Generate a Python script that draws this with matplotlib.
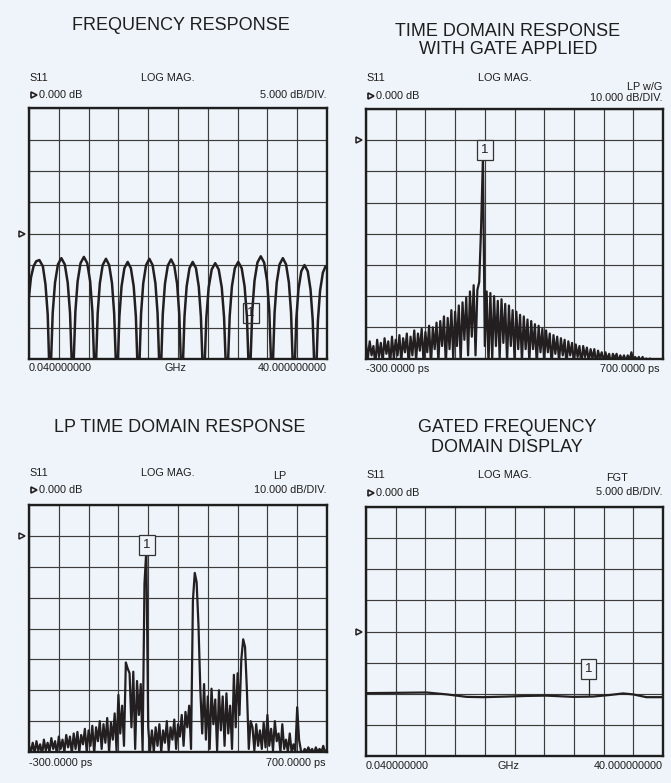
import numpy as np
import matplotlib
matplotlib.use("Agg")
import matplotlib.pyplot as plt
from matplotlib.transforms import blended_transform_factory

plt.rcParams['font.family'] = ['Liberation Sans', 'DejaVu Sans']

BG = '#eef4f9'
INK = '#231f20'
GRID = '#3c3c3c'

# ---------------- data ----------------
titles = ["FREQUENCY RESPONSE", "TIME DOMAIN RESPONSE\nWITH GATE APPLIED",
          "LP TIME DOMAIN RESPONSE", "GATED FREQUENCY\nDOMAIN DISPLAY"]
scales = ["5.000 dB/DIV.", "10.000 dB/DIV.", "10.000 dB/DIV.", "5.000 dB/DIV."]
modes = ["", "LP w/G", "LP", "FGT"]
freq_labels = ["0.040000000", "GHz", "40.000000000"]
time_labels = ["-300.0000 ps", "700.0000 ps"]

# Panel 1: frequency response (GHz, dB)
freq1 = [0.04, 0.30, 0.65, 1.00, 1.43, 1.90, 2.25, 2.55, 2.73, 2.86,
         3.01, 3.22, 3.53, 3.92, 4.38, 4.84, 5.23, 5.54, 5.75, 5.90,
         6.05, 6.26, 6.56, 6.95, 7.40, 7.85, 8.24, 8.54, 8.75, 8.90,
         9.05, 9.25, 9.54, 9.92, 10.36, 10.79, 11.17, 11.46, 11.67, 11.81,
         11.96, 12.16, 12.45, 12.83, 13.27, 13.70, 14.08, 14.37, 14.57, 14.72,
         14.87, 15.07, 15.36, 15.74, 16.18, 16.61, 16.99, 17.28, 17.48, 17.63,
         17.78, 17.98, 18.27, 18.65, 19.09, 19.52, 19.90, 20.19, 20.39, 20.54,
         20.69, 20.89, 21.18, 21.56, 21.99, 22.43, 22.80, 23.09, 23.30, 23.44,
         23.60, 23.82, 24.13, 24.54, 25.01, 25.48, 25.89, 26.20, 26.42, 26.58,
         26.73, 26.95, 27.25, 27.64, 28.10, 28.56, 28.95, 29.26, 29.47, 29.62,
         29.77, 29.98, 30.28, 30.67, 31.12, 31.57, 31.96, 32.26, 32.47, 32.62,
         32.77, 32.97, 33.26, 33.64, 34.08, 34.51, 34.89, 35.18, 35.38, 35.53,
         35.68, 35.88, 36.17, 36.55, 36.98, 37.42, 37.79, 38.08, 38.29, 38.43,
         38.58, 38.78, 39.07, 39.45, 39.80, 40.00]
db1 = [-10.0, -7.0, -5.2, -4.4, -4.2, -5.2, -8.1, -12.9, -20.2, -40,
       -19.9, -12.6, -7.8, -4.9, -3.9, -4.9, -7.8, -12.6, -19.9, -40,
       -19.7, -12.4, -7.6, -4.7, -3.7, -4.7, -7.6, -12.4, -19.7, -40,
       -20.0, -12.7, -7.9, -5.0, -4.0, -5.0, -7.9, -12.7, -20.0, -40,
       -20.5, -13.2, -8.4, -5.5, -4.5, -5.5, -8.4, -13.2, -20.5, -40,
       -20.0, -12.7, -7.9, -5.0, -4.0, -5.0, -7.9, -12.7, -20.0, -40,
       -20.1, -12.8, -8.0, -5.1, -4.1, -5.1, -8.0, -12.8, -20.1, -40,
       -20.5, -13.2, -8.4, -5.5, -4.5, -5.5, -8.4, -13.2, -20.5, -40,
       -20.7, -13.4, -8.6, -5.7, -4.7, -5.7, -8.6, -13.4, -20.7, -40,
       -20.5, -13.2, -8.4, -5.5, -4.5, -5.5, -8.4, -13.2, -20.5, -40,
       -19.6, -12.3, -7.5, -4.6, -3.6, -4.6, -7.5, -12.3, -19.6, -40,
       -19.9, -12.6, -7.8, -4.9, -3.9, -4.9, -7.8, -12.6, -19.9, -40,
       -21.0, -13.7, -8.9, -6.0, -5.0, -6.0, -8.9, -13.7, -21.0, -40,
       -21.2, -13.9, -9.1, -6.2, -5.2, -5.5]

# Time axis for panels 2 and 3 (ps), instrument sample grid
time_ps = np.linspace(-300, 700, 161)

# Panel 2: time domain response with gate applied (dB)
gated_db = [-65.5, -70, -64.5, -69, -66, -72, -64, -69.5, -65, -71,
            -63.5, -68.5, -64.5, -72, -63, -70, -64, -69, -62.5, -71,
            -63.5, -68, -62, -72, -63, -69, -61, -70.5, -62, -67.5,
            -60.5, -71, -61.5, -68, -59.5, -72, -60, -67, -58.5, -71,
            -58, -66, -56.5, -72, -57, -67, -54.5, -70, -55, -66,
            -53, -71, -52, -64, -50.5, -69, -48.5, -63, -46.5, -69,
            -48, -45.5, -28, -5.5, -66, -48.5, -72, -49, -70, -50,
            -66, -51.5, -70, -51, -65, -52.5, -71, -53, -66, -54.5,
            -70, -55, -67, -56, -71, -56.5, -67, -57.5, -71, -58,
            -67, -59, -72, -59.5, -68, -60.5, -71, -61, -68, -62,
            -72, -62.5, -68.5, -63, -71, -63.5, -69, -64, -72, -64.5,
            -69, -65, -71.5, -65.5, -69.5, -66, -72, -66, -69.5, -66.5,
            -71, -67, -70, -67, -72, -67.5, -70, -68, -71, -68,
            -70.5, -68.5, -72, -68.5, -70, -68.5, -71, -69, -70.5, -69,
            -71, -69, -70.5, -68, -71, -69.5, -70.5, -69.5, -71, -69.5,
            -71, -70, -72, -70, -72, -71, -72, -71, -72, -72, -72]

# Panel 3: LP time domain response (dB)
lp_db = [-68, -70, -67, -70.5, -66.5, -69.5, -67.5, -71, -66, -69.5,
         -67, -70, -65.5, -69, -66.5, -71, -65, -69, -66, -70,
         -64.5, -68.5, -65, -70.5, -64, -69, -63.5, -70, -64.5, -67.5,
         -62.5, -70, -63, -68, -61.5, -70.5, -62, -66.5, -60, -69,
         -61, -67, -59, -70, -60.5, -66, -57.5, -69.5, -51.5, -64,
         -55, -68, -41, -43, -44.5, -62, -44, -69, -47, -58,
         -48, -69.5, -15.5, -4.5, -62, -69.5, -63, -70, -62, -68,
         -61, -70, -63, -67, -60, -69.5, -62, -66, -59.5, -69,
         -61, -65, -58, -68, -57, -62, -55, -69, -21, -12,
         -15, -29, -50, -64, -48, -66, -52, -69, -49.5, -61,
         -53, -69.5, -50, -63, -52, -68, -51, -64, -55, -69,
         -45, -62, -44.5, -58, -40, -33.5, -36, -50, -69, -60,
         -62, -69.5, -61, -68, -63, -69, -60.5, -68.5, -58, -68,
         -62.5, -69.5, -60, -66.5, -64, -70, -61, -69, -66, -70,
         -64, -70, -67.5, -70, -55.5, -66, -69.5, -70.5, -69, -70,
         -68.5, -70, -69, -70.5, -68.5, -70, -69, -70, -68, -70.5, -69]

# Panel 4: gated frequency domain (GHz, dB)
freq4 = [0.04, 4.16, 8.19, 10.88, 13.57, 15.81, 18.94, 21.63, 24.32,
         27.90, 30.59, 32.83, 34.62, 35.97, 37.76, 40.00]
db4 = [-9.9, -9.85, -9.8, -10.1, -10.5, -10.55, -10.45, -10.35, -10.3,
       -10.5, -10.45, -10.2, -9.95, -10.1, -10.55, -10.55]

# marker "1" positions (x, box y, trace y)
mk1 = (29.8, -12.7)
mk2 = (100, -3.0)
mk3 = (96, -3.0)
mk4 = (30.0, -6.0, -10.35)

# ---------------- figure ----------------
W, H = 671, 783
fig = plt.figure(figsize=(W / 100, H / 100), dpi=100, facecolor=BG)
TXT = '#1e1e1e'


def fx(x):
    return x / W


def fy(y):
    return 1 - y / H


def make_ax(l, r, t, b):
    return fig.add_axes([fx(l), fy(b), (r - l) / W, (b - t) / H])


def setup(ax, xlim, ylim, ref):
    ax.set_facecolor(BG)
    ax.set_xlim(*xlim)
    ax.set_ylim(*ylim)
    ax.set_xticks(np.linspace(xlim[0], xlim[1], 11))
    ax.set_yticks(np.linspace(ylim[0], ylim[1], 9))
    ax.grid(True, color=GRID, lw=0.85)
    ax.tick_params(length=0, labelbottom=False, labelleft=False)
    for s in ax.spines.values():
        s.set_color('#1e1e1e')
        s.set_linewidth(1.7)
        s.set_zorder(5)
    tr = blended_transform_factory(ax.transAxes, ax.transData)
    ax.plot([-0.022], [ref], marker='>', ms=5, mfc=BG, mec=INK, mew=1.1,
            transform=tr, clip_on=False, ls='none')


def marker_box(ax, x, y, filled=True):
    ax.text(x, y, '1', ha='center', va='center', fontsize=9.5, color=INK, zorder=6,
            bbox=dict(boxstyle='square,pad=0.3', fc=BG if filled else 'none',
                      ec='#333333', lw=0.9))


def header(l, r, title_x, title_ys, title, mode, mode_x, mode_y, scale, scale_y,
           s11_y, ref_y):
    lines = title.split('\n')
    for ln, yy in zip(lines, title_ys):
        fig.text(fx(title_x), fy(yy), ln, ha='center', va='center', fontsize=13, color=TXT)
    fig.text(fx(l), fy(s11_y), 'S11', ha='left', va='center', fontsize=7.8, color=TXT)
    fig.text(fx(l + 139), fy(s11_y), 'LOG MAG.', ha='center', va='center', fontsize=7.8, color=TXT)
    fig.text(fx(l + 10), fy(ref_y), '0.000 dB', ha='left', va='center', fontsize=7.8, color=TXT)
    fig.text(fx(r), fy(scale_y), scale, ha='right', va='center', fontsize=7.8, color=TXT)
    if mode:
        ha = 'right' if mode == 'LP w/G' else 'center'
        fig.text(fx(mode_x), fy(mode_y), mode, ha=ha, va='center', fontsize=7.8, color=TXT)
    fig.lines.append(plt.Line2D([fx(l + 5)], [fy(ref_y)], marker='>', ms=4.2, mfc=BG,
                                mec=INK, mew=1.2, ls='none', transform=fig.transFigure))


# Panel 1
L1, R1, T1, B1 = 29, 327, 108.5, 359
ax1 = make_ax(L1, R1, T1, B1)
setup(ax1, (0.04, 40.0), (-20, 20), 0)
ax1.plot(freq1, db1, color=INK, lw=1.8, solid_joinstyle='round')
marker_box(ax1, *mk1, filled=False)
header(L1, R1, 181, [25], titles[0], modes[0], 0, 0, scales[0], 95, 78, 95)
fig.text(fx(L1), fy(368), freq_labels[0], ha='left', va='center', fontsize=7.8, color=TXT)
fig.text(fx(L1 + 146), fy(368), freq_labels[1], ha='center', va='center', fontsize=7.8, color=TXT)
fig.text(fx(R1), fy(368), freq_labels[2], ha='right', va='center', fontsize=7.8, color=TXT)

# Panel 2
L2, R2, T2, B2 = 366, 663, 109, 358.5
ax2 = make_ax(L2, R2, T2, B2)
setup(ax2, (-300, 700), (-70, 10), 0)
ax2.plot(time_ps, gated_db, color=INK, lw=1.6)
marker_box(ax2, *mk2)
header(L2, R2, 508, [32, 50], titles[1], modes[1], 662, 87, scales[1], 98, 78, 96)
fig.text(fx(L2), fy(369), time_labels[0], ha='left', va='center', fontsize=7.8, color=TXT)
fig.text(fx(R2 - 4), fy(369), time_labels[1], ha='right', va='center', fontsize=7.8, color=TXT)

# Panel 3
L3, R3, T3, B3 = 29, 327, 505, 752
ax3 = make_ax(L3, R3, T3, B3)
setup(ax3, (-300, 700), (-70, 10), 0)
ax3.plot(time_ps, lp_db, color=INK, lw=1.6)
marker_box(ax3, *mk3)
header(L3, R3, 180, [427], titles[2], modes[2], 280, 476, scales[2], 490, 473, 490)
fig.text(fx(L3), fy(763), time_labels[0], ha='left', va='center', fontsize=7.8, color=TXT)
fig.text(fx(R3 - 1), fy(763), time_labels[1], ha='right', va='center', fontsize=7.8, color=TXT)

# Panel 4
L4, R4, T4, B4 = 366, 663, 507, 756
ax4 = make_ax(L4, R4, T4, B4)
setup(ax4, (0.04, 40.0), (-20, 20), 0)
ax4.plot(freq4, db4, color=INK, lw=1.6)
ax4.plot([mk4[0], mk4[0]], [mk4[1] - 1.4, mk4[2]], color=INK, lw=0.9)
marker_box(ax4, mk4[0], mk4[1])
header(L4, R4, 507, [428, 448], titles[3], modes[3], 617, 478, scales[3], 492, 475, 493)
fig.text(fx(L4), fy(766), freq_labels[0], ha='left', va='center', fontsize=7.8, color=TXT)
fig.text(fx(L4 + 142), fy(766), freq_labels[1], ha='center', va='center', fontsize=7.8, color=TXT)
fig.text(fx(R4), fy(766), freq_labels[2], ha='right', va='center', fontsize=7.8, color=TXT)

fig.savefig('out.png', dpi=100, facecolor=BG)
